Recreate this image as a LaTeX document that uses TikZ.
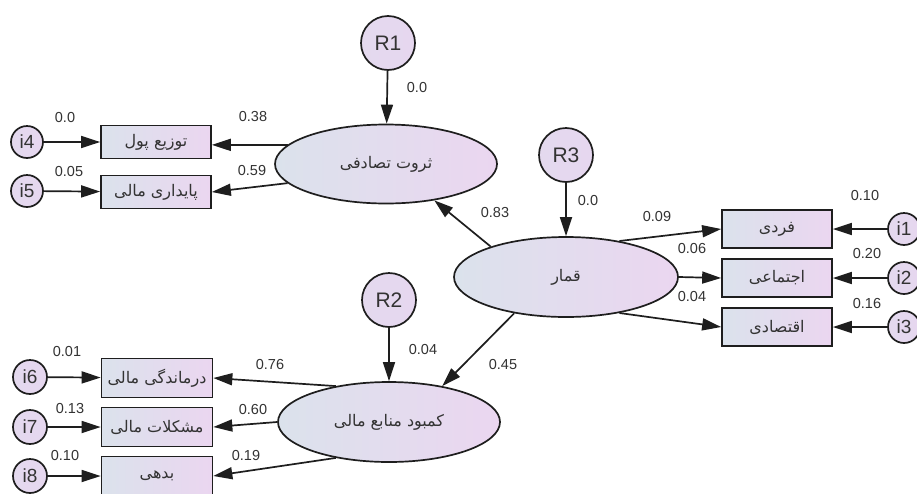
\documentclass[tikz,border=0pt]{standalone}
\usepackage{fontspec}
\setmainfont{Liberation Sans}
\newfontfamily\fa[Script=Arabic]{DejaVu Sans}
\TeXXeTstate=1
\usetikzlibrary{shapes.geometric,arrows.meta}
\definecolor{lcol}{HTML}{DBE2EC}
\definecolor{rcol}{HTML}{EBD6F0}
\definecolor{ccol}{HTML}{E6D7EF}
\definecolor{ink}{HTML}{1E1E1E}
\definecolor{txt}{HTML}{333333}
\begin{document}
\begin{tikzpicture}[x=1pt,y=-1pt,
  lat/.style={ellipse, draw=ink, line width=1.7pt, minimum width=222pt, minimum height=79pt,
    inner sep=0pt, left color=lcol, right color=rcol, text=txt, font=\fa\fontsize{16}{18}\selectfont},
  obs/.style={rectangle, draw=ink, line width=1.7pt, minimum width=110pt, minimum height=38pt,
    inner sep=0pt, left color=lcol, right color=rcol, text=txt, font=\fa\fontsize{16}{18}\selectfont},
  err/.style={circle, draw=ink, line width=1.7pt, minimum size=32pt, inner sep=0pt,
    left color=ccol!80!lcol, right color=ccol, text=txt, font=\fontsize{19}{20}\selectfont},
  res/.style={circle, draw=ink, line width=1.7pt, minimum size=54pt, inner sep=0pt,
    left color=ccol!80!lcol, right color=ccol, text=txt, font=\fontsize{21}{22}\selectfont},
  arr/.style={draw=ink, line width=1.7pt, -{Triangle[length=19pt,width=12pt]}},
  lbl/.style={text=txt, inner sep=0pt, font=\fontsize{14.5}{16}\selectfont}]
\useasboundingbox (0,0) rectangle (917,493);
\fill[white] (0,0) rectangle (917,493);

% latent variables
\node[lat] (E1) at (386,164) {\beginR ثروت تصادفی\endR};
\node[lat, minimum width=224pt, minimum height=80pt] (E3) at (566,277) {\beginR قمار\endR};
\node[lat, minimum height=80pt] (E2) at (389,422) {\beginR کمبود منابع مالی\endR};

% residuals
\node[res] (R1) at (388,43) {R1};
\node[res] (R3) at (566,155) {R3};
\node[res] (R2) at (389,300) {R2};

% observed, right
\node[obs] (b1) at (777,229) {\beginR فردی\endR};
\node[obs] (b2) at (777,278) {\beginR اجتماعی\endR};
\node[obs] (b3) at (777,327) {\beginR اقتصادی\endR};
% observed, top left
\node[obs, minimum height=33pt] (b4) at (156,142) {\beginR توزیع پول\endR};
\node[obs, minimum height=33pt] (b5) at (156,192) {\beginR پایداری مالی\endR};
% observed, bottom left
\node[obs, minimum width=111pt, minimum height=39pt] (b6) at (157,378) {\beginR درماندگی مالی\endR};
\node[obs, minimum width=111pt, minimum height=39pt] (b7) at (157,427) {\beginR مشکلات مالی\endR};
\node[obs, minimum width=111pt, minimum height=39pt] (b8) at (157,476) {\beginR بدهی\endR};

% errors
\node[err] (i1) at (904,229) {i1};
\node[err] (i2) at (904,278) {i2};
\node[err] (i3) at (904,327) {i3};
\node[err] (i4) at (27,142) {i4};
\node[err] (i5) at (27,191) {i5};
\node[err, minimum size=34pt] (i6) at (30,377) {i6};
\node[err, minimum size=34pt] (i7) at (30,427) {i7};
\node[err, minimum size=34pt] (i8) at (30,476) {i8};

% connectors
\draw[arr] (R1) -- (E1);
\draw[arr] (R3) -- (E3);
\draw[arr] (R2) -- (E2);
\draw[arr] (E1.169) -- (E1.169 -| b4.east);
\draw[arr] (E1.191) -- (b5.east);
\draw[arr] (E3.158) -- (E1.-37);
\draw[arr] (E3.34) -- (b1.west);
\draw[arr] (E3.east) -- (b2.west);
\draw[arr] (E3.-34) -- (b3.west);
\draw[arr] (E3.215) -- (E2.34);
\draw[arr] (E2.146) -- (b6.east);
\draw[arr] (E2.west) -- (b7.east);
\draw[arr] (E2.214) -- (b8.east);
\draw[arr] (i1) -- (b1);
\draw[arr] (i2) -- (b2);
\draw[arr] (i3) -- (b3);
\draw[arr] (i4) -- (b4);
\draw[arr] (i5) -- (b5);
\draw[arr] (i6) -- (b6);
\draw[arr] (i7) -- (b7);
\draw[arr] (i8) -- (b8);

% labels
\node[lbl] (l1) at (417,88) {0.0};
\node[lbl] (l2) at (253,117) {0.38};
\node[lbl] (l3) at (252,171) {0.59};
\node[lbl] (l4) at (65,118) {0.0};
\node[lbl] (l5) at (69,172) {0.05};
\node[lbl] (l6) at (495,213) {0.83};
\node[lbl] (l7) at (588,201) {0.0};
\node[lbl] (l8) at (657,217) {0.09};
\node[lbl] (l9) at (692,249) {0.06};
\node[lbl] (l10) at (692,297) {0.04};
\node[lbl] (l11) at (865,196) {0.10};
\node[lbl] (l12) at (867,254) {0.20};
\node[lbl] (l13) at (867,304) {0.16};
\node[lbl] (l14) at (423,350) {0.04};
\node[lbl] (l15) at (503,365) {0.45};
\node[lbl] (l16) at (270,365) {0.76};
\node[lbl] (l17) at (253,409) {0.60};
\node[lbl] (l18) at (246,455) {0.19};
\node[lbl] (l19) at (67,352) {0.01};
\node[lbl] (l20) at (70,408) {0.13};
\node[lbl] (l21) at (65,455) {0.10};
\end{tikzpicture}
\end{document}
